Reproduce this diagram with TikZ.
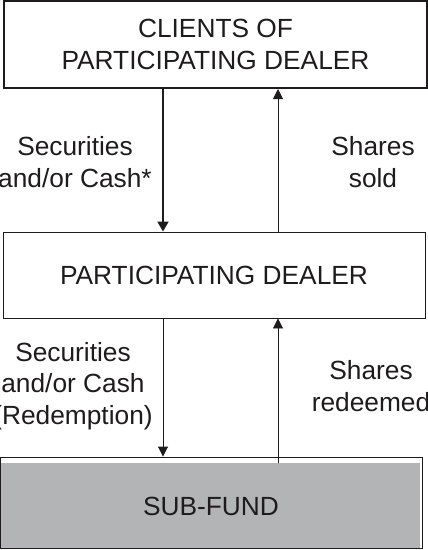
\documentclass[tikz,border=0pt]{standalone}
\usepackage{fontspec}
\setmainfont{Liberation Sans}
\usetikzlibrary{arrows.meta}
\definecolor{txt}{HTML}{1E1B1C}
\definecolor{fundgray}{HTML}{B3B4B6}
\tikzset{
  x=1pt,y=-1pt,
  boxtext/.style={font=\fontsize{26.3}{31.5}\selectfont, text=txt, align=center},
  lbl/.style={font=\fontsize{26.3}{31.5}\selectfont, text=txt, align=center, inner sep=0pt},
  flow/.style={draw=txt, line width=0.9pt, -{Triangle[width=10pt,length=10pt]}},
  flowthick/.style={draw=txt, line width=1.8pt, -{Triangle[width=11pt,length=10pt]}},
}
\begin{document}
\begin{tikzpicture}
\useasboundingbox (0,0) rectangle (428,550);
% boxes
\node[draw=txt, line width=2pt, minimum width=423pt, minimum height=87pt, inner sep=0pt, boxtext] (clients) at (215.5,44.5) {CLIENTS OF\\PARTICIPATING DEALER};
\node[draw=txt, line width=0.9pt, minimum width=422pt, minimum height=86pt, inner sep=0pt, boxtext] (dealer) at (214,275) {PARTICIPATING DEALER};
\fill[fundgray] (0,463) rectangle (420,548);
\node[draw=txt, line width=0.9pt, minimum width=422pt, minimum height=91pt, inner sep=0pt] (fund) at (211,502.5) {};
\node[boxtext] (fundtext) at (211,506) {SUB-FUND};
% coordinates for connector columns
\coordinate (cl) at (163,0);
\coordinate (cr) at (278,0);
\coordinate (fundfill) at (0,463);
% connectors
\draw[flowthick] (clients.south -| cl) -- (dealer.north -| cl);
\draw[flow] (dealer.north -| cr) -- (clients.south -| cr);
\draw[flow] (dealer.south -| cl) -- (fund.north -| cl);
\draw[flow] (fundfill -| cr) -- (dealer.south -| cr);
% labels
\node[lbl] (l1) at (75,162) {Securities\\and/or Cash*};
\node[lbl] (l2) at (373,162) {Shares\\sold};
\node[lbl] (l3) at (73,386) {Securities\\and/or Cash\\(Redemption)};
\node[lbl] (l4) at (371,386) {Shares\\redeemed};
\end{tikzpicture}
\end{document}
